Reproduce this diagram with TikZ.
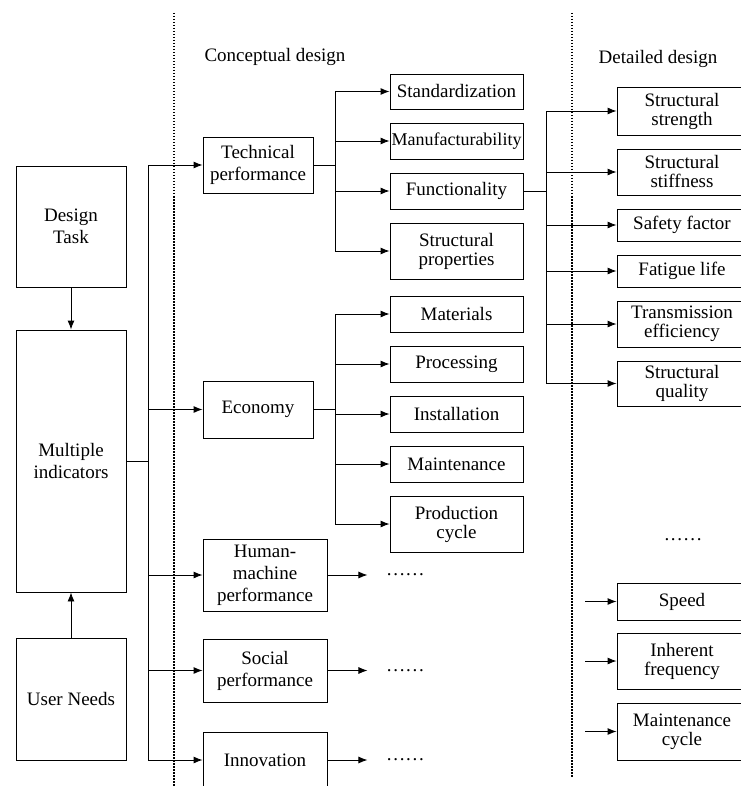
\documentclass[tikz,border=0pt]{standalone}
\usepackage{fontspec}
\setmainfont{Liberation Serif}
\usetikzlibrary{positioning,arrows.meta}
\newcommand\moredots{.\kern1.7pt.\kern1.7pt.\kern1.7pt.\kern1.7pt.\kern1.7pt.}

\begin{document}
\begin{tikzpicture}[x=1pt, y=-1pt, >={Latex[length=9pt,width=7pt]}, line width=0.9pt,
  every node/.style={font=\fontsize{19}{22}\selectfont},
  box/.style={draw, align=center, inner sep=0pt},
  subbox/.style={box, minimum width=133pt, font=\fontsize{19}{19}\selectfont},
  detbox/.style={box, minimum width=130pt, font=\fontsize{19}{19}\selectfont},
  more/.style={inner xsep=19pt, inner ysep=0pt, node distance=40pt},
  divider/.style={line width=1.5pt, dash pattern=on 1.5pt off 1.5pt}]
\useasboundingbox (0,0) rectangle (740,786);

% stages
\draw[divider] (174,13) -- (174,786);
\draw[divider] (572,13) -- (572,777);
\node (concept) at (275,57) {Conceptual design};
\node (detail) at (658,59) {Detailed design};

\node[box, minimum width=110pt, minimum height=121pt] (task) at (71,226.5) {Design\\Task};
\node[box, minimum width=110pt, minimum height=262pt] (multi) at (71,461) {Multiple\\indicators};
\node[box, minimum width=110pt, minimum height=122pt] (needs) at (71,699) {User Needs};
\draw[->] (task) -- (multi);
\draw[->] (needs) -- (multi);

% indicators
\node[box, minimum width=110pt, minimum height=56pt] (tech) at (258,165) {Technical\\performance};
\node[box, minimum width=110pt, minimum height=57pt] (econ) at (258,409.5) {Economy};
\node[box, minimum width=124pt, minimum height=72pt] (human) at (265,575) {Human-\\machine\\performance};
\node[box, minimum width=124pt, minimum height=63pt] (social) at (265,670.5) {Social\\performance};
\node[box, minimum width=124pt, minimum height=56pt] (innov) at (265,760) {Innovation};
\foreach \n in {tech,econ,human,social,innov}
  \draw[->] (multi.east) -- ++(22,0) |- (\n);

\node[subbox, minimum height=35pt] (std) at (456.5,91.5) {Standardization};
\node[subbox, minimum height=36pt, font=\fontsize{18}{19}\selectfont] (manu) at (456.5,141) {Manufacturability};
\node[subbox, minimum height=36pt] (func) at (456.5,191) {Functionality};
\node[subbox, minimum height=56pt] (props) at (456.5,251) {Structural\\properties};
\foreach \n in {std,manu,func,props}
  \draw[->] (tech.east) -- ++(22,0) |- (\n);

\node[subbox, minimum height=36pt] (mat) at (456.5,314) {Materials};
\node[subbox, minimum height=36pt] (proc) at (456.5,364) {Processing};
\node[subbox, minimum height=36pt] (inst) at (456.5,414) {Installation};
\node[subbox, minimum height=36pt] (maint) at (456.5,464) {Maintenance};
\node[subbox, minimum height=56pt] (cycle) at (456.5,524) {Production\\cycle};
\foreach \n in {mat,proc,inst,maint,cycle}
  \draw[->] (econ.east) -- ++(22,0) |- (\n);

\node[more, right=of human] (humanmore) {\moredots};
\node[more, right=of social] (socialmore) {\moredots};
\node[more, right=of innov] (innovmore) {\moredots};
\draw[->] (human) -- (humanmore);
\draw[->] (social) -- (socialmore);
\draw[->] (innov) -- (innovmore);

% detailed design
\node[detbox, minimum height=48pt] (strength) at (682,111) {Structural\\strength};
\node[detbox, minimum height=46pt] (stiff) at (682,172) {Structural\\stiffness};
\node[detbox, minimum height=32pt] (safety) at (682,225) {Safety factor};
\node[detbox, minimum height=32pt] (fatigue) at (682,271) {Fatigue life};
\node[detbox, minimum height=46pt] (trans) at (682,324) {Transmission\\efficiency};
\node[detbox, minimum height=45pt] (quality) at (682,383.5) {Structural\\quality};
\foreach \n in {strength,stiff,safety,fatigue,trans,quality}
  \draw[->] (func.east) -- ++(23,0) |- (\n);

\node (detailmore) at (683,540) {\moredots};
\node[detbox, minimum height=37pt] (speed) at (682,601.5) {Speed};
\node[detbox, minimum height=56pt] (freq) at (682,661) {Inherent\\frequency};
\node[detbox, minimum height=57pt] (mcycle) at (682,731.5) {Maintenance\\cycle};
\foreach \n in {speed,freq,mcycle}
  \draw[<-] (\n.west) -- ++(-32,0);
\end{tikzpicture}
\end{document}
